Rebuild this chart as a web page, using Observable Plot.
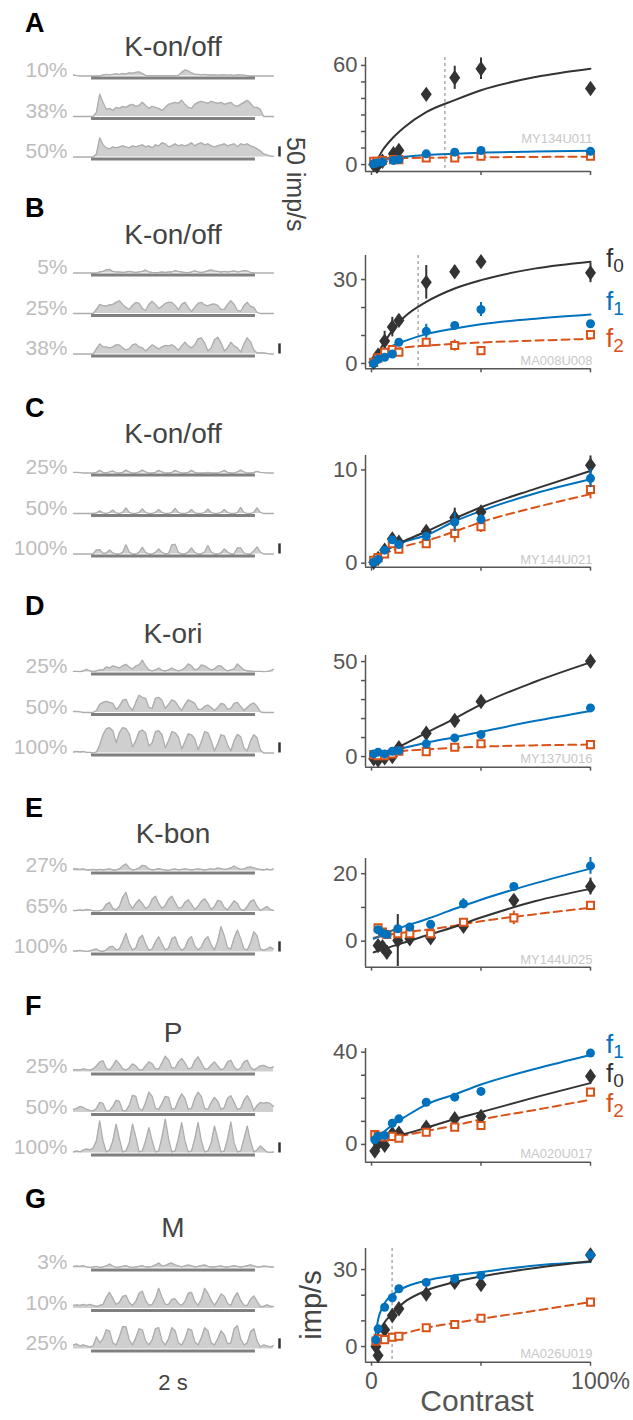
<!DOCTYPE html>
<html>
<head>
<meta charset="utf-8">
<script src="https://cdn.jsdelivr.net/npm/d3@7"></script>
<script src="https://cdn.jsdelivr.net/npm/@observablehq/plot@0.6"></script>
<style>
  html, body { margin: 0; padding: 0; background: #fff; }
  #fig { position: relative; width: 633px; height: 1420px; overflow: hidden; background: #fff; }
</style>
</head>
<body>
<div id="fig"></div>
<script>
// ================= DATA =================
// PSTHs: firing rate (imp/s) in 40 ms bins starting at -0.22 s; stimulus 0–2 s
const binStart = -0.22, binWidth = 0.04;
const stimOn = 0, stimOff = 2;
const scaleBarRate = 50; // imp/s

const levelsA = ["10%", "38%", "50%"];
const psthA10 = [5,2,0,0,0,0,0,0,0,5, 8,6,8,10,8,12,10,15,14,18, 20,12,3,2,2,2,2,2,2,2, 2,2,3,18,30,25,15,8,8,6, 8,5,6,5,4,6,5,4,5,3, 6,5,4,2,0,0,0,0,0,0, 0,0];
const psthA38 = [0,0,0,0,0,0,0,20,110,70, 35,40,30,45,40,50,45,55,60,50, 55,70,55,40,50,45,40,30,45,60, 65,70,65,80,60,45,40,60,70,75, 70,65,75,70,65,70,60,65,70,55, 50,60,70,80,65,45,45,35,0,0, 0,0];
const psthA50 = [0,0,0,0,0,0,0,15,95,60, 45,40,50,45,50,55,50,45,55,50, 55,60,50,55,45,60,55,70,65,50, 55,65,55,60,55,60,70,55,65,70, 60,65,55,50,55,60,65,55,60,65, 50,65,60,65,55,50,40,30,15,10, 5,3];

const levelsB = ["5%", "25%", "38%"];
const psthB5  = [0,0,0,0,0,0,0,0,5,8, 15,18,8,5,5,3,5,8,5,3, 5,8,15,5,3,2,3,5,3,5, 5,12,8,5,3,2,5,10,5,3, 5,12,15,10,8,5,8,5,8,10, 5,8,12,10,3,0,0,0,0,0, 0,0];
const psthB25 = [0,0,0,0,0,0,0,20,45,38, 38,42,45,55,63,45,30,20,40,55, 50,25,15,45,60,45,25,35,50,55, 55,40,18,45,55,30,10,30,50,55, 42,38,45,47,40,20,20,45,63,45, 15,10,40,55,35,30,5,0,0,0, 0,0];
const psthB38 = [0,0,0,0,0,0,0,25,50,35, 35,30,35,45,45,30,20,25,45,50, 35,30,15,30,45,35,25,35,42,40, 45,35,18,40,58,40,30,45,75,80, 55,15,30,70,83,55,15,30,58,40, 30,10,50,80,60,20,5,5,5,3, 0,0];

const levelsC = ["25%", "50%", "100%"];
const psthC25  = [3,3,2,0,0,0,0,3,13,3, 0,5,10,2,0,3,15,5,0,0, 5,15,5,0,0,3,13,5,0,0, 3,13,5,0,0,3,13,3,0,0, 0,3,0,0,0,5,13,3,0,0, 5,15,5,0,0,3,8,3,2,0, 0,0];
const psthC50  = [0,0,0,0,0,0,0,3,13,3, 0,5,17,3,0,5,28,5,0,0, 5,23,5,0,0,5,20,5,0,0, 5,25,5,0,0,5,20,3,0,0, 5,22,5,0,0,5,20,5,0,0, 5,30,5,0,0,5,28,5,0,0, 0,0];
const psthC100 = [0,0,0,0,0,0,0,20,22,3, 5,20,5,0,0,8,45,10,0,0, 8,33,8,0,0,8,25,8,0,3, 45,48,8,0,0,10,30,8,0,0, 10,42,10,0,0,5,25,10,0,0, 30,30,5,0,0,15,35,10,0,0, 0,0];

const levelsD = ["25%", "50%", "100%"];
const psthD25  = [3,3,2,5,13,5,3,5,10,10, 25,20,30,25,20,30,38,25,15,30, 35,58,30,10,5,10,20,8,5,10, 20,10,5,10,20,40,30,10,15,35, 30,20,10,15,30,30,15,5,10,15, 40,25,10,5,5,3,3,3,2,3, 5,13];
const psthD50  = [5,5,3,0,0,0,0,10,40,50, 55,50,45,15,30,60,65,30,10,50, 85,75,70,25,20,70,75,60,20,40, 62,55,30,10,40,62,55,45,15,15, 30,37,25,10,25,45,40,15,20,45, 50,30,10,25,40,47,30,3,0,0, 0,0];
const psthD100 = [5,8,5,8,3,3,0,5,40,90, 120,125,110,50,100,125,120,95,30,60, 105,113,100,35,50,105,110,90,25,60, 105,100,80,20,55,95,90,70,15,55, 105,100,60,10,45,90,85,40,10,60, 92,80,25,10,60,90,75,15,0,0, 0,0];

const levelsE = ["27%", "65%", "100%"];
const psthE27  = [10,10,8,10,5,5,8,5,8,5, 8,10,5,5,10,25,35,15,5,8, 15,28,25,10,5,8,12,8,5,3, 8,10,5,8,10,8,5,8,10,8, 5,8,10,8,15,12,8,10,15,25, 15,8,10,18,20,15,10,8,5,10, 5,10];
const psthE65  = [5,5,8,5,10,8,3,3,3,10, 35,45,15,8,25,70,95,40,15,40, 58,40,15,25,60,75,40,15,30,60, 75,45,15,20,45,58,35,10,25,50, 63,40,10,25,55,50,20,8,30,53, 40,10,5,25,50,58,25,5,15,25, 10,5];
const psthE100 = [5,5,8,5,3,5,10,15,5,3, 10,25,28,10,15,50,92,40,10,20, 65,83,40,8,15,50,75,40,10,20, 65,75,30,8,20,60,75,30,10,25, 60,75,35,10,55,125,80,20,15,70, 108,65,15,10,45,100,80,15,8,15, 25,15];

const levelsF = ["25%", "50%", "100%"];
const psthF25  = [10,12,10,15,12,10,15,30,50,55, 20,10,30,58,40,15,10,20,40,30, 10,10,30,50,40,15,15,45,78,60, 20,20,50,67,45,15,20,55,75,45, 15,15,35,50,30,10,20,50,58,25, 10,20,50,58,25,10,20,30,33,25, 20,25];
const psthF50  = [15,20,30,25,15,10,8,20,50,45, 8,8,30,60,55,10,8,35,85,80, 20,10,50,100,80,20,15,45,80,75, 15,20,60,92,70,15,20,70,100,80, 20,15,50,75,55,15,25,70,83,50, 15,20,60,83,55,10,35,50,45,50, 45,30];
const psthF100 = [5,10,5,15,20,15,25,60,158,60, 5,15,60,142,70,5,10,50,142,80, 5,10,60,125,60,5,10,80,167,70, 5,10,70,150,60,5,10,70,150,60, 5,10,50,133,70,5,10,70,153,50, 5,10,70,133,60,5,15,35,20,5, 3,5];

const levelsG = ["3%", "10%", "25%"];
const psthG3  = [8,10,8,12,5,3,5,8,3,5, 10,20,10,3,5,8,12,5,3,5, 8,12,5,5,8,15,25,10,12,20, 25,15,10,5,10,15,10,5,8,12, 15,8,5,5,8,10,5,5,8,12, 8,5,8,12,15,10,5,5,10,8, 5,5];
const psthG10 = [15,18,15,20,15,20,15,10,15,20, 55,80,50,20,30,60,65,30,15,35, 75,85,40,15,20,50,100,55,20,20, 45,48,25,15,35,75,80,35,15,45, 100,75,40,15,40,72,60,25,15,55, 78,40,15,15,45,62,35,10,10,18, 12,10];
const psthG25 = [20,25,15,20,15,10,15,60,30,50, 95,90,30,20,60,110,110,45,20,55, 100,95,40,20,45,100,105,40,20,50, 105,90,30,20,50,100,95,35,20,55, 105,90,30,20,50,90,70,25,30,100, 115,50,20,30,85,100,40,10,20,15, 10,15];

// Contrast-response data: contrast (%), mean response (imp/s), error (imp/s)
const cA   = [1, 2.5, 5, 10, 12.5, 25, 38, 50, 100];
const f0A  = [0, -1, 2, 6.5, 8.5, 42.5, 52.5, 58, 46];
const f0eA = [1.5, 1.5, 1.5, 2.5, 2.5, 2.5, 7, 6.5, 2];
const f1A  = [0.5, 1, 1.5, 2.5, 3, 6.5, 7.5, 8.5, 8];
const f1eA = [0.5, 0.5, 0.5, 0.5, 0.5, 0.8, 0.8, 0.8, 0.8];
const f2A  = [2, 2, 2.5, 3, 3, 4, 4, 5, 5];
const f2eA = [0.5, 0.5, 0.5, 0.5, 0.5, 0.8, 0.8, 0.8, 0.8];
const fitCA = [1, 3, 5, 10, 15, 25, 38, 50, 75, 100];
const fit0A = [0.4, 4, 8.5, 16.5, 22.6, 31.7, 39, 45, 53, 58];
const fit1A = [0.3, 2.5, 3.2, 4.2, 4.8, 5.8, 6.6, 7.2, 7.9, 8.4];
const fit2A = [2.5, 3, 3.3, 3.7, 3.9, 4.1, 4.3, 4.4, 4.6, 4.8];
const c50A = 33.5;

const cB   = [1, 3, 6, 9.5, 12.5, 25, 38, 50, 100];
const f0B  = [0.4, 3, 8, 13, 15.4, 29, 32.8, 36.4, 32.4];
const f0eB = [1, 1.5, 3.5, 3.5, 2, 6, 2, 1.5, 3.5];
const f1B  = [0, 1.5, 2.2, 3.4, 7.6, 11.5, 13.6, 19.3, 14.2];
const f1eB = [0.5, 0.5, 0.5, 0.8, 1, 2.5, 1, 2.5, 1];
const f2B  = [0.4, 2, 4, 5, 4, 7.6, 6.4, 4.6, 10.3];
const f2eB = [0.5, 0.5, 1, 1, 1, 1, 2, 0.8, 1.5];
const fitCB = [0, 2, 5, 10, 15, 25, 38, 50, 75, 100];
const fit0B = [0, 2.5, 6.4, 12.4, 16.6, 22, 26.8, 29.8, 34, 36.4];
const fit1B = [0, 1.5, 3.5, 6.5, 8, 10.5, 12.5, 14, 16, 17.5];
const fit2B = [0, 1.5, 3.5, 5, 5.7, 6.4, 7, 7.5, 8.2, 8.8];
const c50B = 21.3;

const cC   = [1, 3, 6, 9.5, 12.5, 25, 38, 50, 100];
const f0C  = [0.1, 0.5, 1.4, 2.6, 2.25, 3.4, 4.9, 5.5, 10.5];
const f0eC = [0.2, 0.2, 0.2, 0.3, 0.3, 0.3, 1, 0.5, 1];
const f1C  = [0.1, 0.4, 1.4, 2.5, 2.0, 2.9, 4.4, 4.7, 9.1];
const f1eC = [0.1, 0.1, 0.2, 0.2, 0.2, 0.3, 1, 0.5, 1];
const f2C  = [0.3, 0.6, 1.0, 2.1, 1.5, 2.1, 3.2, 3.9, 7.9];
const f2eC = [0.1, 0.1, 0.2, 0.3, 0.3, 0.3, 1, 0.6, 1];
const fitCC = [0, 2, 5, 10, 15, 25, 38, 50, 75, 100];
const fit0C = [0, 0.6, 1.2, 1.9, 2.4, 3.4, 4.8, 6.0, 8.0, 9.9];
const fit1C = [0, 0.5, 1.1, 1.8, 2.3, 3.0, 4.5, 5.6, 7.5, 9.0];
const fit2C = [0.2, 0.5, 0.9, 1.4, 1.8, 2.4, 3.4, 4.4, 6.0, 7.4];

const cD   = [1, 3, 6, 9.5, 12.5, 25, 38, 50, 100];
const f0D  = [-1.2, -1.8, -0.7, 0, 4.6, 12.3, 19, 29, 50.2];
const f0eD = [1, 1, 1, 1, 1, 1.5, 1.5, 1.5, 1.5];
const f1D  = [1.4, 2.3, 1.4, 2.8, 3.2, 6.7, 9.8, 11.6, 25.6];
const f1eD = [0.5, 0.5, 0.5, 0.5, 0.5, 0.8, 0.8, 0.8, 0.8];
const f2D  = [1, 0.5, 0.5, 1.4, 2.8, 2.6, 4.9, 6.7, 6.3];
const f2eD = [0.5, 0.5, 0.5, 0.5, 0.5, 0.8, 0.8, 0.8, 0.8];
const fitCD = [1, 5, 10, 15, 25, 38, 50, 75, 100];
const fit0D = [0, 1.5, 3.5, 6.5, 12.5, 20, 27.5, 39.5, 49.6];
const fit1D = [1.4, 2.3, 3.4, 4.6, 7.3, 10.2, 13, 18.8, 24];
const fit2D = [0.9, 1.8, 2.5, 3.0, 3.8, 4.6, 5.2, 5.9, 6.3];

const cE   = [3, 5, 7, 12, 17.5, 27, 42, 65, 100];
const f0E  = [-1.3, -1.6, -3.3, 0.2, 0.7, 1.0, 4.4, 12.1, 16.2];
const f0eE = [1, 1, 2, 7.7, 1, 1, 1, 1.5, 2.5];
const f1E  = [3.4, 2.4, 2, 3.7, 4.2, 5, 11.1, 16.2, 22.3];
const f1eE = [0.5, 0.5, 0.5, 0.5, 0.5, 0.5, 1.5, 0.8, 2.5];
const f2E  = [4, 2.7, 2, 2.2, 2.2, 2.2, 5.6, 6.9, 10.6];
const f2eE = [0.8, 0.5, 0.5, 0.5, 0.5, 0.5, 0.8, 2, 0.8];
const fitCE = [1, 5, 10, 15, 25, 38, 50, 75, 100];
const fit0E = [-3.3, -2.5, -1.4, -0.4, 1.7, 4.3, 7.0, 11.9, 15.5];
const fit1E = [0.7, 1.9, 3.3, 4.4, 6.5, 9.6, 12.3, 17.2, 21.5];
const fit2E = [1.0, 1.5, 2.1, 2.6, 3.4, 4.6, 5.9, 8.0, 9.9];

const cF   = [1.5, 3, 6, 9.5, 12.5, 25, 38, 50, 100];
const f0F  = [-2.9, 0.3, -0.4, 4.6, 4.9, 7.5, 11.1, 12.1, 29.6];
const f0eF = [1, 1, 1, 1, 1, 1, 1.2, 1.2, 1.5];
const f1F  = [2, 3.5, 3.9, 9.2, 11.1, 18.3, 20.5, 23, 39.6];
const f1eF = [0.5, 0.5, 0.5, 0.8, 0.8, 1, 1, 1.5, 1];
const f2F  = [4.3, 3.5, 3.2, 3.5, 2.7, 5.3, 7.5, 8.2, 22.7];
const f2eF = [0.5, 0.5, 0.5, 0.5, 0.5, 0.8, 0.8, 0.8, 1];
const fitCF = [1, 5, 10, 15, 25, 38, 50, 75, 100];
const fit0F = [0.3, 1.8, 3.3, 4.5, 7.2, 11, 14, 20.5, 26.6];
const fit1F = [2.5, 5, 8.8, 11.8, 17.3, 21.7, 26, 32.8, 38.8];
const fit2F = [3.9, 3.7, 3.5, 4.0, 5.8, 8.2, 10.8, 15, 19.4];

const cG   = [2, 3, 6, 9.5, 12.5, 25, 38, 50, 100];
const f0G  = [0, -3.5, 6.5, 12.1, 14.7, 20.5, 25, 24.2, 35.7];
const f0eG = [1, 1.5, 1.5, 1.5, 1.5, 1.5, 1.5, 1.5, 1.5];
const f1G  = [2.6, 6.9, 15.3, 19, 22.5, 25, 26.4, 27.7, 35.7];
const f1eG = [0.5, 0.8, 1, 1.5, 1, 1, 1, 1, 1];
const f2G  = [2.1, 3, 2.7, 3.6, 4, 7.3, 8.6, 11, 17.3];
const f2eG = [0.5, 0.5, 0.5, 0.5, 0.5, 0.8, 0.8, 0.8, 1];
const fitCG = [1, 2, 3, 5, 10, 15, 25, 38, 50, 75, 100];
const fit0G = [0.5, 2.8, 4.9, 8.2, 13.4, 17.3, 21.8, 25.1, 27.3, 30.6, 33.2];
const fit1G = [1, 5.5, 10.5, 15.3, 20.5, 23, 25.7, 27.7, 29, 31.6, 32.9];
const fit2G = [2.1, 2.3, 2.6, 3.2, 4.3, 5.2, 7.3, 9.2, 10.8, 14, 17.3];
const c50G = 9.4;

// Axis ticks and labels
const xTicks = [0, 50, 100];
const ticksA = [0, 10, 20, 30, 40, 50, 60], labelsA = [0, 60];
const ticksB = [0, 10, 20, 30], labelsB = [0, 30];
const ticksC = [0, 10], labelsC = [0, 10];
const ticksD = [0, 10, 20, 30, 40, 50], labelsD = [0, 50];
const ticksE = [0, 10, 20], labelsE = [0, 20];
const ticksF = [0, 10, 20, 30, 40], labelsF = [0, 40];
const ticksG = [0, 10, 20, 30], labelsG = [0, 30];

const letters = ["A", "B", "C", "D", "E", "F", "G"];
const titles = ["K-on/off", "K-on/off", "K-on/off", "K-ori", "K-bon", "P", "M"];
const unitIds = ["MY134U011", "MA008U008", "MY144U021", "MY137U016", "MY144U025", "MA020U017", "MA026U019"];

// ================= LAYOUT =================
const FONT = '"Liberation Sans", Arial, Helvetica, sans-serif';
const DARK = "#333333", BLUE = "#0072BD", ORANGE = "#D95319";

const rows = [
  {levels: levelsA, traces: [psthA10, psthA38, psthA50], c: cA, f0: f0A, f0e: f0eA, f1: f1A, f1e: f1eA, f2: f2A, f2e: f2eA,
   fitC: fitCA, fit0: fit0A, fit1: fit1A, fit2: fit2A, c50: c50A, ticks: ticksA, labels: labelsA,
   letterY: 32, titleY: 56, base: 75, yDomain: [-4.2, 64.8], fTop: 57, fBottom: 171, idDy: -29},
  {levels: levelsB, traces: [psthB5, psthB25, psthB38], c: cB, f0: f0B, f0e: f0eB, f1: f1B, f1e: f1eB, f2: f2B, f2e: f2eB,
   fitC: fitCB, fit0: fit0B, fit1: fit1B, fit2: fit2B, c50: c50B, ticks: ticksB, labels: labelsB,
   letterY: 217, titleY: 244, base: 272.3, yDomain: [-1.9, 38.6], fTop: 255, fBottom: 368.3, idDy: -4},
  {levels: levelsC, traces: [psthC25, psthC50, psthC100], c: cC, f0: f0C, f0e: f0eC, f1: f1C, f1e: f1eC, f2: f2C, f2e: f2eC,
   fitC: fitCC, fit0: fit0C, fit1: fit1C, fit2: fit2C, c50: null, ticks: ticksC, labels: labelsC,
   letterY: 417, titleY: 443, base: 472.7, yDomain: [-0.43, 11.55], fTop: 455, fBottom: 566.7, idDy: -3},
  {levels: levelsD, traces: [psthD25, psthD50, psthD100], c: cD, f0: f0D, f0e: f0eD, f1: f1D, f1e: f1eD, f2: f2D, f2e: f2eD,
   fitC: fitCD, fit0: fit0D, fit1: fit1D, fit2: fit2D, c50: null, ticks: ticksD, labels: labelsD,
   letterY: 615, titleY: 643, base: 671, yDomain: [-5.6, 53.2], fTop: 655, fBottom: 766.7, idDy: -4},
  {levels: levelsE, traces: [psthE27, psthE65, psthE100], c: cE, f0: f0E, f0e: f0eE, f1: f1E, f1e: f1eE, f2: f2E, f2e: f2eE,
   fitC: fitCE, fit0: fit0E, fit1: fit1E, fit2: fit2E, c50: null, ticks: ticksE, labels: labelsE,
   letterY: 817, titleY: 843, base: 870.5, yDomain: [-7.7, 24.5], fTop: 858, fBottom: 966.7, idDy: -3},
  {levels: levelsF, traces: [psthF25, psthF50, psthF100], c: cF, f0: f0F, f0e: f0eF, f1: f1F, f1e: f1eF, f2: f2F, f2e: f2eF,
   fitC: fitCF, fit0: fit0F, fit1: fit1F, fit2: fit2F, c50: null, ticks: ticksF, labels: labelsF,
   letterY: 1015, titleY: 1042, base: 1071.5, yDomain: [-7.7, 41.6], fTop: 1048, fBottom: 1161.7, idDy: -4},
  {levels: levelsG, traces: [psthG3, psthG10, psthG25], c: cG, f0: f0G, f0e: f0eG, f1: f1G, f1e: f1eG, f2: f2G, f2e: f2eG,
   fitC: fitCG, fit0: fit0G, fit1: fit1G, fit2: fit2G, c50: c50G, ticks: ticksG, labels: labelsG,
   letterY: 1208, titleY: 1237, base: 1267.5, yDomain: [-6.1, 38.2], fTop: 1248, fBottom: 1361.7, idDy: -4}
];

const fig = document.getElementById("fig");
function put(node, left, top) {
  node.style.position = "absolute";
  node.style.left = left + "px";
  node.style.top = top + "px";
  fig.appendChild(node);
}

// tall diamond symbol for f0
const tallDiamond = {
  draw(ctx, size) {
    const w = Math.sqrt(size / 0.7), h = w * 1.4;
    ctx.moveTo(0, -h / 2); ctx.lineTo(w / 2, 0); ctx.lineTo(0, h / 2); ctx.lineTo(-w / 2, 0); ctx.closePath();
  }
};

const bandH = 40.5, psthMT = 2, psthMB = 8;
const xMin = -2.74;

rows.forEach((r, k) => {
  // ---- PSTH panel ----
  const data = [];
  r.traces.forEach((tr, j) => tr.forEach((v, i) => data.push({level: r.levels[j], t: binStart + i * binWidth, rate: v})));
  const tEnd = binStart + (r.traces[0].length - 1) * binWidth;
  const stim = r.levels.map(l => ({level: l}));
  const psth = Plot.plot({
    width: 300, height: psthMT + 3 * bandH + psthMB,
    marginLeft: 73, marginRight: 27, marginTop: psthMT, marginBottom: psthMB,
    style: {fontFamily: FONT, background: "transparent", overflow: "visible"},
    x: {domain: [binStart, tEnd], axis: null},
    y: {domain: [0, 200], axis: null},
    fy: {domain: r.levels, padding: 0, axis: null, round: false},
    facet: {marginTop: 0, marginRight: 0, marginBottom: 0, marginLeft: 0},
    marks: [
      Plot.areaY(data, {fy: "level", x: "t", y: "rate", fill: "#cfcfcf", curve: "linear"}),
      Plot.lineY(data, {fy: "level", x: "t", y: "rate", stroke: "#adadad", strokeWidth: 1.3, curve: "linear"}),
      Plot.ruleY(stim, {fy: "level", y: () => 0, x1: () => stimOn, x2: () => stimOff, stroke: "#808080", strokeWidth: 3, dy: 2}),
      Plot.text(r.levels, {fy: d => d, text: d => d, frameAnchor: "bottom-left", textAnchor: "end", lineAnchor: "bottom",
        dx: -6, dy: 1, fontSize: 21, fill: "#bdbdbd"}),
      Plot.ruleX([r.levels[2]], {fy: d => d, x: () => tEnd, y1: () => 0, y2: () => scaleBarRate, dx: 6, stroke: DARK, strokeWidth: 2.5})
    ]
  });
  put(psth, 0, r.base - bandH - psthMT);

  // ---- Contrast response panel ----
  const isLast = k === rows.length - 1;
  const mt = 12, mb = isLast ? 34 : 8;
  const pts = (cs, vs, es) => cs.map((c, i) => ({c, v: vs[i], e: es[i]}));
  const p0 = pts(r.c, r.f0, r.f0e), p1 = pts(r.c, r.f1, r.f1e), p2 = pts(r.c, r.f2, r.f2e);
  const fit = (vs) => r.fitC.map((c, i) => ({c, v: vs[i]}));
  const marks = [];
  if (r.c50 != null) marks.push(Plot.ruleX([r.c50], {stroke: "#aaaaaa", strokeWidth: 1.5, strokeDasharray: "3,3"}));
  marks.push(
    Plot.ruleX([xMin], {stroke: "currentColor", strokeWidth: 1.5}),
    Plot.ruleY([r.yDomain[0]], {x1: xMin, x2: 100, stroke: "currentColor", strokeWidth: 1.5}),
    Plot.axisY({ticks: r.ticks, tickFormat: d => r.labels.includes(d) ? String(d) : "", tickSize: 4, tickPadding: 4,
      fontSize: 22, strokeWidth: 1.5, label: null}),
    Plot.axisX({ticks: xTicks, tickFormat: () => "", tickSize: 4, strokeWidth: 1.5, label: null}),
    Plot.text([unitIds[k]], {frameAnchor: "bottom-right", textAnchor: "end", lineAnchor: "bottom", dx: 2, dy: r.idDy, fontSize: 13, fill: "#c8c8c8"}),
    Plot.line(fit(r.fit2), {x: "c", y: "v", stroke: ORANGE, strokeWidth: 2, strokeDasharray: "8,5", curve: "monotone-x"}),
    Plot.line(fit(r.fit1), {x: "c", y: "v", stroke: BLUE, strokeWidth: 2, curve: "monotone-x"}),
    Plot.line(fit(r.fit0), {x: "c", y: "v", stroke: DARK, strokeWidth: 2, curve: "monotone-x"}),
    Plot.ruleX(p0, {x: "c", y1: d => d.v - d.e, y2: d => d.v + d.e, stroke: DARK, strokeWidth: 2}),
    Plot.dot(p0, {x: "c", y: "v", symbol: tallDiamond, r: 5.2, fill: DARK}),
    Plot.ruleX(p2, {x: "c", y1: d => d.v - d.e, y2: d => d.v + d.e, stroke: ORANGE, strokeWidth: 2}),
    Plot.dot(p2, {x: "c", y: "v", symbol: "square", r: 4, fill: "white", stroke: ORANGE, strokeWidth: 2}),
    Plot.ruleX(p1, {x: "c", y1: d => d.v - d.e, y2: d => d.v + d.e, stroke: BLUE, strokeWidth: 2}),
    Plot.dot(p1, {x: "c", y: "v", r: 4.5, fill: BLUE})
  );
  if (isLast) {
    marks.push(
      Plot.text([0], {x: d => d, text: () => "0", frameAnchor: "bottom", lineAnchor: "top", dy: 10, fontSize: 23, fill: "currentColor"}),
      Plot.text([100], {x: d => d, text: () => "100%", frameAnchor: "bottom", lineAnchor: "top", dy: 10, dx: 10, fontSize: 23, fill: "currentColor"})
    );
  }
  const cr = Plot.plot({
    width: 333, height: (r.fBottom - r.fTop) + mt + mb,
    marginLeft: 65, marginRight: 43, marginTop: mt, marginBottom: mb,
    style: {fontFamily: FONT, background: "transparent", overflow: "visible", color: "#555"},
    x: {domain: [xMin, 100]},
    y: {domain: r.yDomain},
    marks
  });
  put(cr, 300, r.fTop - mt);
});

// ================= ANNOTATIONS =================
const ov = d3.select(fig).append("svg")
  .attr("width", 633).attr("height", 1420)
  .style("position", "absolute").style("left", "0px").style("top", "0px")
  .style("pointer-events", "none").style("font-family", FONT);

rows.forEach((r, k) => {
  ov.append("text").attr("x", 25).attr("y", r.letterY).attr("font-weight", "bold").attr("font-size", 27).attr("fill", "#000").text(letters[k]);
  ov.append("text").attr("x", 173).attr("y", r.titleY).attr("text-anchor", "middle").attr("font-size", 28).attr("fill", "#444").text(titles[k]);
});

// harmonic labels
const fLabels = [
  {sub: "0", color: DARK, y: 267}, {sub: "1", color: BLUE, y: 310}, {sub: "2", color: ORANGE, y: 347},
  {sub: "1", color: BLUE, y: 1053}, {sub: "0", color: DARK, y: 1082}, {sub: "2", color: ORANGE, y: 1112}
];
fLabels.forEach(f => {
  const t = ov.append("text").attr("x", 606).attr("y", f.y).attr("font-size", 26).attr("fill", f.color);
  t.append("tspan").text("f");
  t.append("tspan").attr("dy", 5).attr("font-size", 19).text(f.sub);
});

ov.append("text").attr("transform", "translate(287,137) rotate(90)").attr("font-size", 25).attr("fill", "#444").text("50 imp/s");
ov.append("text").attr("x", 173).attr("y", 1390).attr("text-anchor", "middle").attr("font-size", 22).attr("fill", "#444").text("2 s");
ov.append("text").attr("transform", "translate(321,1305) rotate(-90)").attr("text-anchor", "middle").attr("font-size", 29).attr("fill", "#444").text("imp/s");
ov.append("text").attr("x", 477).attr("y", 1411).attr("text-anchor", "middle").attr("font-size", 30).attr("fill", "#555").text("Contrast");
</script>
</body>
</html>
